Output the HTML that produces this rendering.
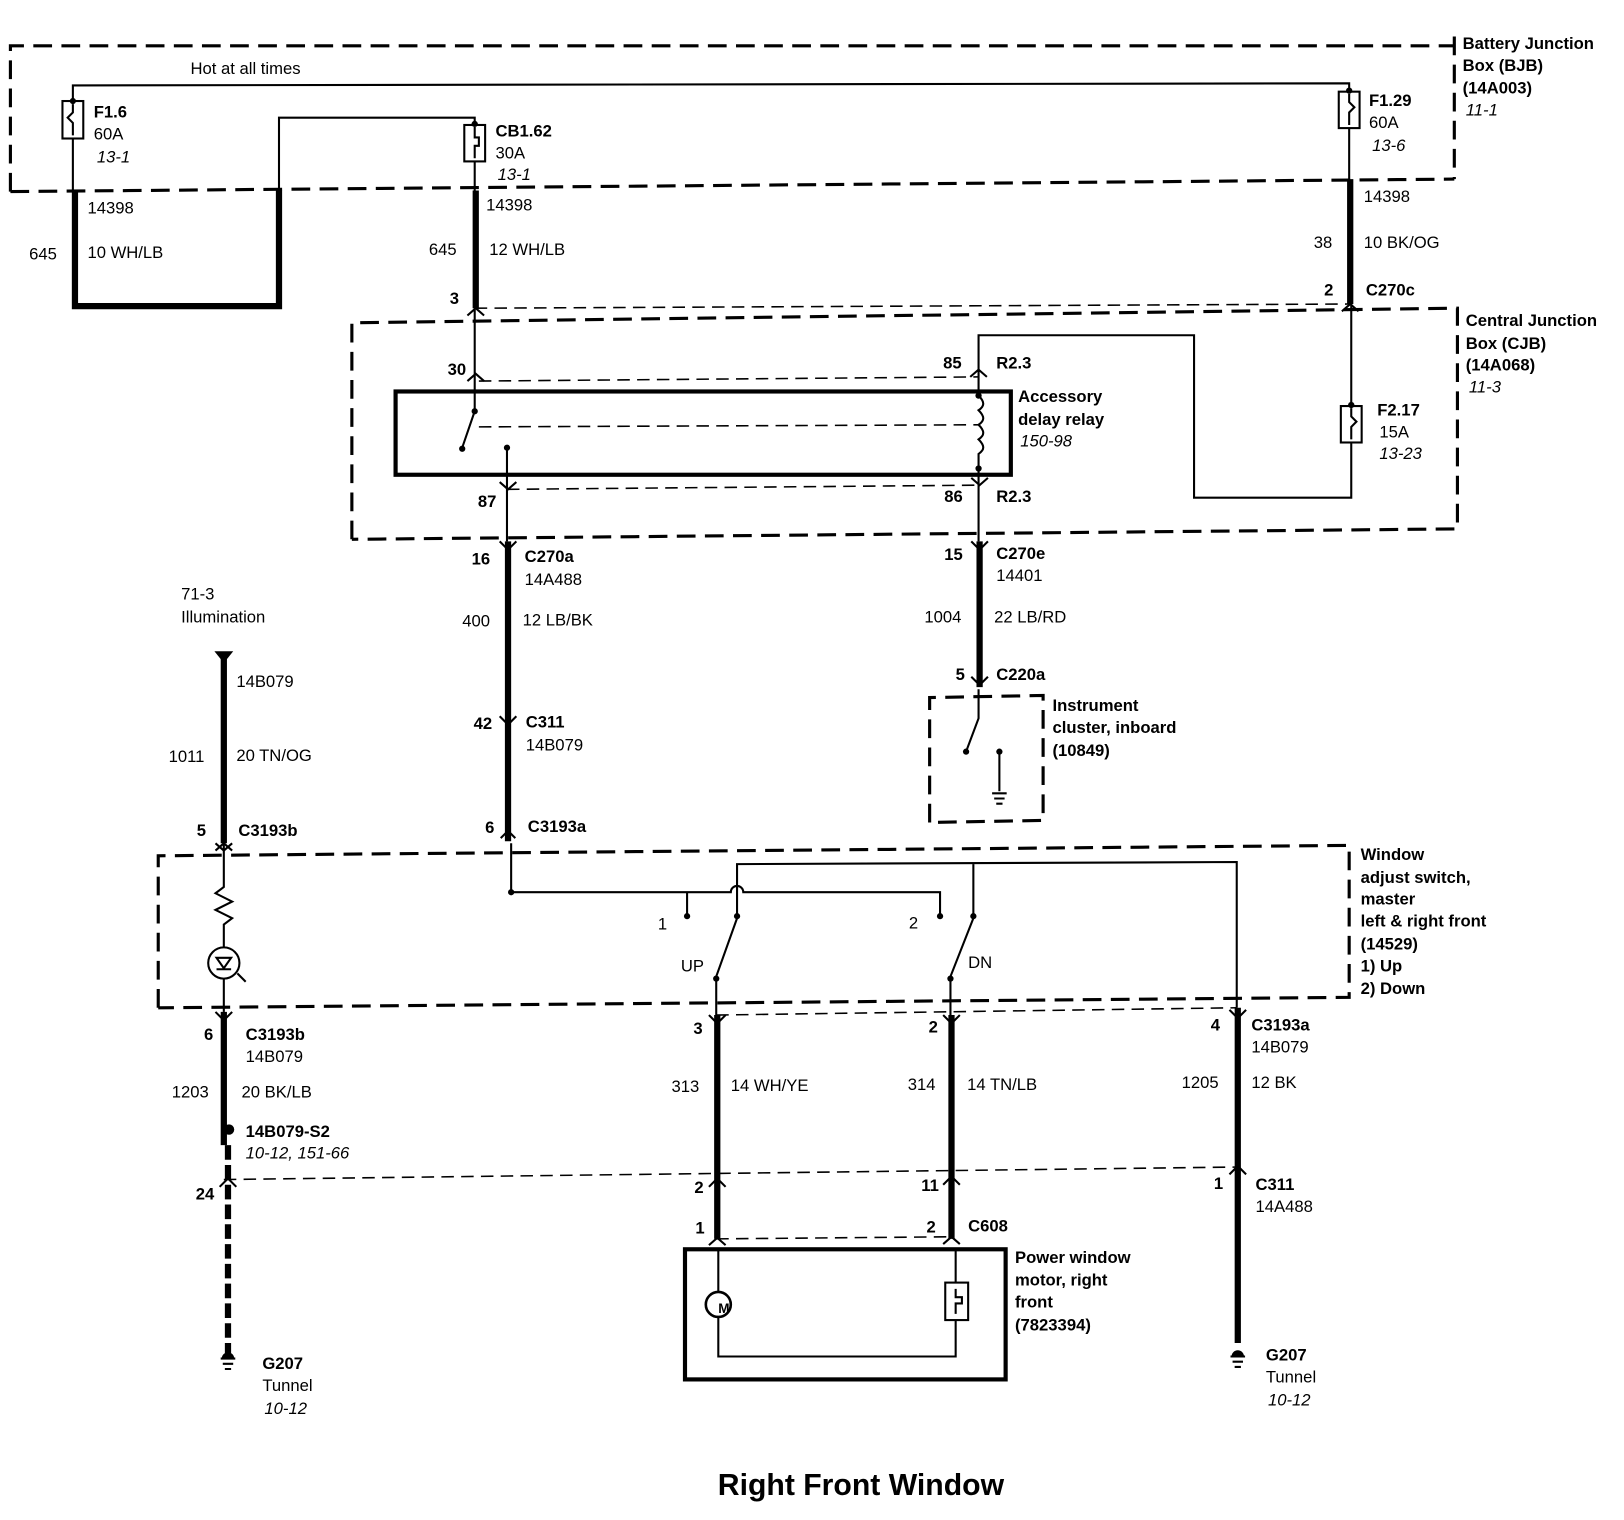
<!DOCTYPE html>
<html><head><meta charset="utf-8"><style>
html,body{margin:0;padding:0;background:#fff;}
svg{display:block;}
text{font-family:"Liberation Sans",Arial,sans-serif;font-size:16px;fill:#000;}
.b{font-weight:bold;}
.i{font-style:italic;}
</style></head><body>
<svg width="1624" height="1520" viewBox="0 0 1560 1460" xmlns="http://www.w3.org/2000/svg">
<g fill="none" stroke="#000">
<!-- dashed boxes -->
<g stroke-width="3" stroke-dasharray="18,9">
<path d="M10,184 L10,44 L1397,44"/>
<path d="M10,184 L1397,172"/>
<path d="M1397,35 L1397,172"/>
<path d="M338,518 L338,310 L1400,296 L1400,508 L338,518"/>
<path d="M152,968 L152,822 L1296,812 L1296,958 L152,968"/>
<path d="M893,790 L893,670 L1002,668 L1002,788 L893,790"/>
</g>
<!-- thin dashed connector lines -->
<g stroke-width="1.5" stroke-dasharray="12,7">
<path d="M456,296 L1296,292"/>
<path d="M460,366 L940,362"/>
<path d="M460,410 L940,408"/>
<path d="M487,470 L940,466"/>
<path d="M688,975 L1188,968"/>
<path d="M215,1133 L1188,1121"/>
<path d="M688,1190 L913,1188"/>
</g>
<!-- thin wires -->
<g stroke-width="2">
<path d="M70,97 L70,82 L1296,80 L1296,88"/>
<path d="M70,133 L70,183"/>
<path d="M268,183 L268,113 L456,113 L456,120"/>
<path d="M456,155 L456,183"/>
<path d="M1296,123 L1296,172"/>
<path d="M456,296 L456,395 L444,430"/>
<path d="M487,430 L487,520"/>
<path d="M1298,292 L1298,390"/>
<path d="M1298,425 L1298,478 L1147,478 L1147,322 L940,322 L940,380"/>
<path d="M940,380 c6,6 6,10 0,14 c6,6 6,10 0,14 c6,6 6,10 0,14 c6,6 6,10 0,14 L940,520"/>
<path d="M215,810 L215,852 l-8,6 l16,8 l-16,8 l16,8 l-8,6 L215,910"/>
<path d="M215,940 L215,972"/>
<path d="M491,810 L491,857 L702,857 a6,6 0 0 1 12,0 L903,857 L903,880"/>
<path d="M660,857 L660,880"/>
<path d="M708,878 L708,830 L1188,828 L1188,968"/>
<path d="M935,830 L935,880"/>
<path d="M708,882 L688,938 L688,975"/>
<path d="M935,882 L913,938 L913,975"/>
<path d="M940,662 L940,690 L928,722"/>
<path d="M960,722 L960,760"/>
<path d="M690,1200 L690,1241"/>
<path d="M690,1265 L690,1303 L918,1303 L918,1268"/>
<path d="M918,1232 L918,1200"/>
</g>
<!-- thick wires -->
<g stroke-width="6">
<path d="M72,183 L72,294 L268,294 L268,183"/>
<path d="M457,183 L457,296"/>
<path d="M1297,172 L1297,292"/>
<path d="M488,520 L488,808"/>
<path d="M941,520 L941,660"/>
<path d="M215,628 L215,810"/>
<path d="M215,972 L215,1100"/>
<path d="M689,975 L689,1190"/>
<path d="M914,975 L914,1190"/>
<path d="M1189,968 L1189,1290"/>
</g>
<path d="M219,1100 L219,1300" stroke-width="6" stroke-dasharray="14,5"/>
<!-- relay box -->
<rect x="380" y="376" width="591" height="80" stroke-width="4"/>
<!-- motor box -->
<rect x="658" y="1200" width="308" height="125" stroke-width="4"/>
<circle cx="690" cy="1253" r="12" stroke-width="2.5"/>
<rect x="908" y="1232" width="22" height="36" stroke-width="2"/>
<path d="M918,1238 l0,8 l6,0 l0,6 l-6,0 l0,10" stroke-width="2"/>
<!-- fuses -->
<g stroke-width="2">
<rect x="60" y="97" width="20" height="36"/><path d="M70,100 l0,8 l-5,5 l5,5 l0,12"/>
<rect x="446" y="120" width="20" height="35"/><path d="M456,122 l0,10 l4,0 l0,8 l-4,0 l0,12"/>
<rect x="1286" y="88" width="20" height="35"/><path d="M1296,90 l0,8 l5,5 l-5,5 l0,12"/>
<rect x="1288" y="390" width="20" height="35"/><path d="M1298,392 l0,8 l5,5 l-5,5 l0,12"/>
</g>
<!-- LED -->
<circle cx="215" cy="925" r="15" stroke-width="2"/>
<path d="M208,920 L222,920 L215,930 Z M208,931 L222,931" stroke-width="2"/>
<path d="M228,935 l8,8" stroke-width="2"/>
<!-- connector chevrons -->
<g stroke-width="2">
<path d="M449,303 l8,-7 l8,7"/><path d="M1289,299 l8,-7 l8,7"/>
<path d="M449,366 l8,-7 l8,7"/><path d="M932,362 l8,-7 l8,7"/>
<path d="M480,463 l8,7 l8,-7"/><path d="M933,459 l8,7 l8,-7"/>
<path d="M480,520 l8,8 l8,-8"/><path d="M933,520 l8,8 l8,-8"/>
<path d="M480,688 l8,8 l8,-8"/><path d="M933,650 l8,8 l8,-8"/>
<path d="M481,805 l7,-7 l7,7"/><path d="M207,817 l8,-7 l8,7"/><path d="M207,810 l8,7 l8,-7"/>
<path d="M207,972 l8,8 l8,-8"/><path d="M681,975 l8,8 l8,-8"/><path d="M906,975 l8,8 l8,-8"/><path d="M1181,970 l8,8 l8,-8"/>
<path d="M681,1140 l8,-8 l8,8"/><path d="M906,1138 l8,-8 l8,8"/><path d="M1181,1128 l8,-8 l8,8"/><path d="M211,1140 l8,-8 l8,8"/>
<path d="M681,1196 l8,-7 l8,7"/><path d="M906,1195 l8,-7 l8,7"/>
</g>
<!-- illumination arrow -->
<path d="M207,626 L223,626 L215,636 Z" fill="#000" stroke-width="1"/>
<!-- grounds -->
<g stroke-width="2">
<path d="M212,1305 l14,0 M214,1310 l10,0 M216,1315 l6,0"/>
<path d="M1182,1303 l14,0 M1184,1308 l10,0 M1186,1313 l6,0"/>
<path d="M953,762 l14,0 M955,767 l10,0 M957,772 l6,0"/>
</g>
</g>
<g fill="#000">
<circle cx="70" cy="97" r="3"/><circle cx="456" cy="119" r="3"/><circle cx="1296" cy="87" r="3"/><circle cx="1298" cy="389" r="3"/>
<circle cx="456" cy="395" r="3"/><circle cx="444" cy="431" r="3"/><circle cx="487" cy="430" r="3"/>
<circle cx="940" cy="380" r="3"/><circle cx="940" cy="450" r="3"/>
<circle cx="491" cy="857" r="3"/><circle cx="660" cy="880" r="3"/><circle cx="903" cy="880" r="3"/><circle cx="708" cy="880" r="3"/><circle cx="935" cy="880" r="3"/>
<circle cx="688" cy="940" r="3"/><circle cx="913" cy="940" r="3"/>
<circle cx="928" cy="722" r="3"/><circle cx="960" cy="722" r="3"/>
<circle cx="220" cy="1085" r="5"/>
<path d="M213,1305 a6,6 0 0 1 12,0 Z M1183,1303 a6,6 0 0 1 12,0 Z"/>
</g>
<text x="690" y="1261" class="b" font-size="13" style="font-size:13px">M</text>

<text x="183" y="71">Hot at all times</text>
<text x="90" y="113" class="b">F1.6</text><text x="90" y="134">60A</text><text x="93" y="156" class="i">13-1</text>
<text x="476" y="131" class="b">CB1.62</text><text x="476" y="152">30A</text><text x="478" y="173" class="i">13-1</text>
<text x="1315" y="102" class="b">F1.29</text><text x="1315" y="123">60A</text><text x="1318" y="145" class="i">13-6</text>
<text x="1405" y="47" class="b">Battery Junction</text><text x="1405" y="68" class="b">Box (BJB)</text><text x="1405" y="90" class="b">(14A003)</text><text x="1408" y="111" class="i">11-1</text>
<text x="84" y="205">14398</text><text x="28" y="249">645</text><text x="84" y="248">10  WH/LB</text>
<text x="467" y="202">14398</text><text x="412" y="245">645</text><text x="470" y="245">12  WH/LB</text>
<text x="1310" y="194">14398</text><text x="1262" y="238">38</text><text x="1310" y="238">10  BK/OG</text>
<text x="432" y="292" class="b">3</text><text x="1272" y="284" class="b">2</text><text x="1312" y="284" class="b">C270c</text>
<text x="1408" y="313" class="b">Central Junction</text><text x="1408" y="335" class="b">Box (CJB)</text><text x="1408" y="356" class="b">(14A068)</text><text x="1411" y="377" class="i">11-3</text>
<text x="430" y="360" class="b">30</text><text x="906" y="354" class="b">85</text><text x="957" y="354" class="b">R2.3</text>
<text x="978" y="386" class="b">Accessory</text><text x="978" y="408" class="b">delay relay</text><text x="980" y="429" class="i">150-98</text>
<text x="1323" y="399" class="b">F2.17</text><text x="1325" y="420">15A</text><text x="1325" y="441" class="i">13-23</text>
<text x="459" y="487" class="b">87</text><text x="907" y="482" class="b">86</text><text x="957" y="482" class="b">R2.3</text>
<text x="453" y="542" class="b">16</text><text x="504" y="540" class="b">C270a</text><text x="504" y="562">14A488</text>
<text x="907" y="538" class="b">15</text><text x="957" y="537" class="b">C270e</text><text x="957" y="558">14401</text>
<text x="444" y="602">400</text><text x="502" y="601">12  LB/BK</text>
<text x="888" y="598">1004</text><text x="955" y="598">22  LB/RD</text>
<text x="918" y="653" class="b">5</text><text x="957" y="653" class="b">C220a</text>
<text x="1011" y="683" class="b">Instrument</text><text x="1011" y="704" class="b">cluster, inboard</text><text x="1011" y="726" class="b">(10849)</text>
<text x="174" y="576">71-3</text><text x="174" y="598">Illumination</text>
<text x="227" y="660">14B079</text><text x="162" y="732">1011</text><text x="227" y="731">20  TN/OG</text>
<text x="455" y="700" class="b">42</text><text x="505" y="699" class="b">C311</text><text x="505" y="721">14B079</text>
<text x="189" y="803" class="b">5</text><text x="229" y="803" class="b">C3193b</text>
<text x="466" y="800" class="b">6</text><text x="507" y="799" class="b">C3193a</text>
<text x="1307" y="826" class="b">Window</text><text x="1307" y="848" class="b">adjust switch,</text><text x="1307" y="869" class="b">master</text><text x="1307" y="890" class="b">left &amp; right front</text><text x="1307" y="912" class="b">(14529)</text><text x="1307" y="933" class="b">1)    Up</text><text x="1307" y="955" class="b">2)    Down</text>
<text x="632" y="893">1</text><text x="873" y="892">2</text><text x="654" y="933">UP</text><text x="930" y="930">DN</text>
<text x="196" y="999" class="b">6</text><text x="236" y="999" class="b">C3193b</text><text x="236" y="1020">14B079</text>
<text x="165" y="1054">1203</text><text x="232" y="1054">20  BK/LB</text>
<text x="236" y="1092" class="b">14B079-S2</text><text x="236" y="1113" class="i">10-12, 151-66</text>
<text x="188" y="1152" class="b">24</text>
<text x="666" y="993" class="b">3</text><text x="892" y="992" class="b">2</text><text x="1163" y="990" class="b">4</text>
<text x="1202" y="990" class="b">C3193a</text><text x="1202" y="1011">14B079</text>
<text x="645" y="1049">313</text><text x="702" y="1048">14  WH/YE</text>
<text x="872" y="1047">314</text><text x="929" y="1047">14  TN/LB</text>
<text x="1135" y="1045">1205</text><text x="1202" y="1045">12  BK</text>
<text x="667" y="1146" class="b">2</text><text x="885" y="1144" class="b">11</text><text x="1166" y="1142" class="b">1</text>
<text x="1206" y="1143" class="b">C311</text><text x="1206" y="1164">14A488</text>
<text x="668" y="1185" class="b">1</text><text x="890" y="1184" class="b">2</text><text x="930" y="1183" class="b">C608</text>
<text x="975" y="1213" class="b">Power window</text><text x="975" y="1235" class="b">motor, right</text><text x="975" y="1256" class="b">front</text><text x="975" y="1278" class="b">(7823394)</text>
<text x="252" y="1315" class="b">G207</text><text x="252" y="1336">Tunnel</text><text x="254" y="1358" class="i">10-12</text>
<text x="1216" y="1307" class="b">G207</text><text x="1216" y="1328">Tunnel</text><text x="1218" y="1350" class="i">10-12</text>
<text x="827" y="1436" class="b" text-anchor="middle" style="font-size:29px">Right Front Window</text>
</svg>
</body></html>
